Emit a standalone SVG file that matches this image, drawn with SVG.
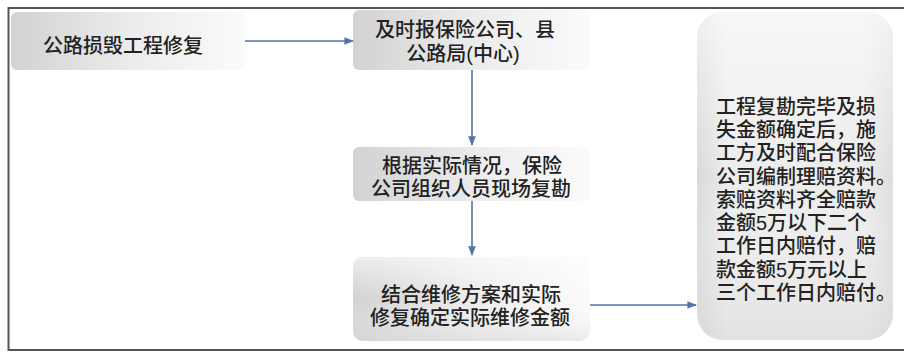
<svg xmlns="http://www.w3.org/2000/svg" width="904" height="352" viewBox="0 0 904 352">
<defs>
<style>
.t{font-family:"Liberation Sans","Noto Sans CJK SC",sans-serif;font-size:20px;fill:#222;font-weight:500}
.c{stroke:#5373a8;stroke-width:1.6;fill:none}
</style>
<linearGradient id="gh" x1="0" y1="0" x2="1" y2="0">
<stop offset="0" stop-color="#d2d2d2"/>
<stop offset="0.5" stop-color="#ebebeb"/>
<stop offset="1" stop-color="#fbfbfb"/>
</linearGradient>
<linearGradient id="gv" x1="0" y1="0" x2="0" y2="1">
<stop offset="0" stop-color="#ffffff" stop-opacity="0.6"/>
<stop offset="0.5" stop-color="#ffffff" stop-opacity="0"/>
<stop offset="1" stop-color="#d8d8d8" stop-opacity="0.5"/>
</linearGradient>
<linearGradient id="g5" x1="0" y1="0" x2="1" y2="0">
<stop offset="0" stop-color="#d9d9d9"/>
<stop offset="0.15" stop-color="#ececec"/>
<stop offset="0.85" stop-color="#ececec"/>
<stop offset="1" stop-color="#dedede"/>
</linearGradient>
<marker id="ah" viewBox="0 0 10 10" refX="9" refY="5" markerWidth="6" markerHeight="6" orient="auto">
<path d="M0,1 L10,5 L0,9 z" fill="#5373a8"/>
</marker>
</defs>
<rect width="904" height="352" fill="#ffffff"/>
<path d="M904,8 L8.5,8 L8.5,350 L904,350" fill="none" stroke="#555" stroke-width="2"/>
<g id="node1">
<rect x="11" y="12" width="234" height="58" rx="6" fill="url(#gh)"/>
<text class="t" x="123" y="53" text-anchor="middle">公路损毁工程修复</text>
</g>
<g id="node2">
<rect x="353" y="10" width="237" height="60" rx="6" fill="url(#gh)"/>
<text class="t" text-anchor="middle"><tspan x="465" y="37">及时报保险公司、县</tspan><tspan x="463" y="61">公路局(中心)</tspan></text>
</g>
<g id="node3">
<rect x="353" y="147" width="237" height="54" rx="6" fill="url(#gh)"/>
<text class="t" text-anchor="middle"><tspan x="472" y="173">根据实际情况，保险</tspan><tspan x="471" y="196">公司组织人员现场复勘</tspan></text>
</g>
<g id="node4">
<rect x="353" y="257" width="237" height="84" rx="10" fill="url(#gh)"/>
<rect x="353" y="257" width="237" height="84" rx="10" fill="url(#gv)"/>
<text class="t" text-anchor="middle"><tspan x="471" y="302">结合维修方案和实际</tspan><tspan x="470" y="325">修复确定实际维修金额</tspan></text>
</g>
<g id="node5">
<rect x="697" y="12" width="196" height="328" rx="26" fill="url(#g5)"/>
<rect x="697" y="12" width="196" height="328" rx="26" fill="url(#gv)"/>
<text class="t" x="716"><tspan x="716" y="114">工程复勘完毕及损</tspan><tspan x="716" y="137">失金额确定后，施</tspan><tspan x="716" y="160">工方及时配合保险</tspan><tspan x="716" y="184">公司编制理赔资料。</tspan><tspan x="716" y="207">索赔资料齐全赔款</tspan><tspan x="716" y="230">金额5万以下二个</tspan><tspan x="716" y="253">工作日内赔付，赔</tspan><tspan x="716" y="277">款金额5万元以上</tspan><tspan x="716" y="300">三个工作日内赔付。</tspan></text>
</g>
<g id="connectors">
<line class="c" x1="245" y1="41" x2="353" y2="41" marker-end="url(#ah)"/>
<line class="c" x1="472" y1="70" x2="472" y2="145" marker-end="url(#ah)"/>
<line class="c" x1="472" y1="201" x2="472" y2="255" marker-end="url(#ah)"/>
<line class="c" x1="590" y1="305" x2="696" y2="305" marker-end="url(#ah)"/>
</g>
</svg>
